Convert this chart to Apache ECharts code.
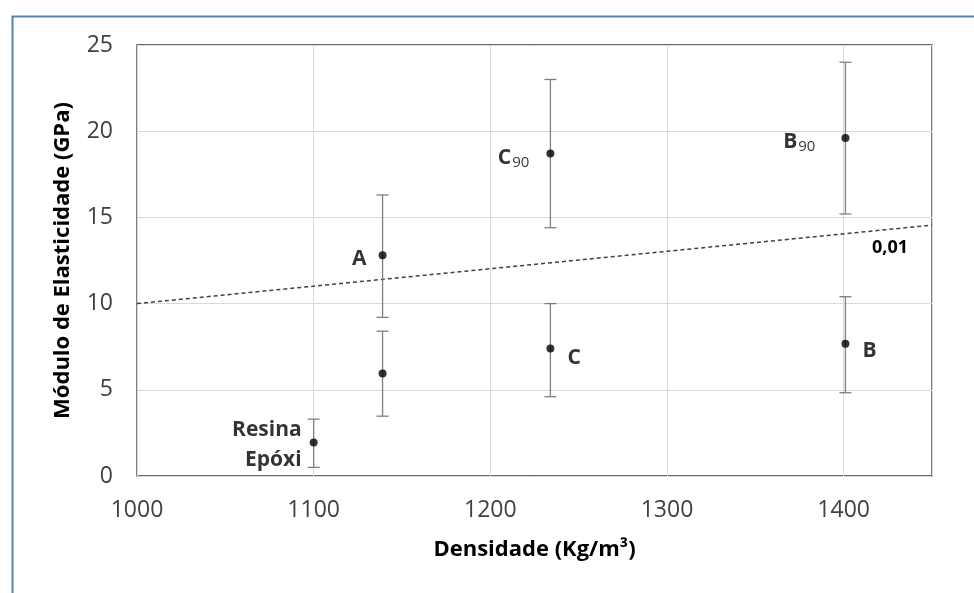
<!DOCTYPE html>
<html>
<head>
<meta charset="utf-8">
<script src="https://cdn.jsdelivr.net/npm/echarts@6/dist/echarts.min.js"></script>
<style>
  html, body { margin: 0; padding: 0; background: #fff; }
  #chart { width: 974px; height: 593px; }
</style>
</head>
<body>
<div id="chart"></div>
<script>
// Density (kg/m³) and elastic modulus (GPa) for each sample
const density = [1100, 1139, 1139, 1234, 1234, 1401, 1401];
const modulus = [1.95, 5.95, 12.8, 18.7, 7.4, 19.6, 7.67];
const errLow  = [0.5, 3.47, 9.2, 14.4, 4.6, 15.2, 4.83];
const errHigh = [3.3, 8.4, 16.3, 23.0, 10.0, 24.0, 10.4];
const sampleNames = ['Resina\nEpóxi', '', 'A', 'C90', 'C', 'B90', 'B'];

// Linear trend line end points and its slope label
const trendX = [1000, 1450];
const trendY = [10, 14.55];
const trendLabel = '0,01';

// Axis ticks
const xTicks = [1000, 1100, 1200, 1300, 1400];
const yTicks = [0, 5, 10, 15, 20, 25];

const FONT = '"Open Sans", "Liberation Sans", sans-serif';

// label placement for each sample name
const labelStyle = {
  'Resina\nEpóxi': { position: 'left', distance: 8, offset: [0, 3] },
  'A':   { position: 'left', distance: 12, offset: [0, 4] },
  'C90': { position: 'left', distance: 17, offset: [0, 4] },
  'C':   { position: 'right', distance: 13, offset: [0, 10] },
  'B90': { position: 'left', distance: 26, offset: [0, 4] },
  'B':   { position: 'right', distance: 13, offset: [0, 7] }
};

function richName(name) {
  if (name.endsWith('90')) return '{b|' + name.slice(0, -2) + '}{s|90}';
  if (name.includes('\n')) return name.split('\n').map(t => '{r|' + t + '}').join('\n');
  return '{b|' + name + '}';
}

const pointData = density.map((d, i) => {
  const name = sampleNames[i];
  const item = { value: [d, modulus[i]] };
  if (name) {
    const st = labelStyle[name];
    item.label = {
      show: true,
      position: st.position,
      distance: st.distance,
      offset: st.offset,
      align: st.position === 'left' ? 'right' : 'left',
      formatter: richName(name),
      rich: {
        b: { fontFamily: FONT, fontSize: 21, fontWeight: 'bold', color: '#000', lineHeight: 24 },
        s: { fontFamily: FONT, fontSize: 15, color: '#000', lineHeight: 24, padding: [10, 0, 0, 1] },
        r: { fontFamily: FONT, fontSize: 21, fontWeight: 'bold', color: '#000', lineHeight: 30, align: 'right' }
      }
    };
  }
  return item;
});

const errData = density.map((d, i) => [d, errLow[i], errHigh[i]]);

const chart = echarts.init(document.getElementById('chart'), null, { renderer: 'canvas' });

chart.setOption({
  backgroundColor: '#ffffff',
  animation: false,
  graphic: [{
    type: 'rect',
    left: 10, top: 14,
    shape: { width: 1000, height: 620 },
    style: { fill: 'none', stroke: '#4f81bd', lineWidth: 2 },
    silent: true
  }],
  grid: {
    left: 137, top: 45, right: 42, bottom: 117,
    show: true, borderColor: '#3a3a3a', borderWidth: 1.3,
    containLabel: false
  },
  xAxis: {
    type: 'value',
    min: xTicks[0], max: 1450, interval: 100,
    name: 'Densidade (Kg/m³)',
    nameLocation: 'middle', nameGap: 63,
    nameTextStyle: { fontFamily: FONT, fontSize: 22, fontWeight: 'bold', color: '#000' },
    axisLine: { show: false },
    axisTick: { show: false },
    axisLabel: {
      margin: 23, fontFamily: FONT, fontSize: 23, color: '#404040',
      formatter: v => xTicks.includes(v) ? String(v) : ''
    },
    splitLine: { show: true, lineStyle: { color: '#d9d9d9', width: 1 } }
  },
  yAxis: {
    type: 'value',
    min: yTicks[0], max: yTicks[yTicks.length - 1], interval: 5,
    name: 'Módulo de Elasticidade (GPa)',
    nameLocation: 'middle', nameGap: 63,
    nameTextStyle: { fontFamily: FONT, fontSize: 22, fontWeight: 'bold', color: '#000' },
    axisLine: { show: false },
    axisTick: { show: false },
    axisLabel: { margin: 24, fontFamily: FONT, fontSize: 23, color: '#404040' },
    splitLine: { show: true, lineStyle: { color: '#d9d9d9', width: 1 } }
  },
  series: [
    {
      name: 'trend',
      type: 'line',
      data: trendX.map((x, i) => [x, trendY[i]]),
      symbol: 'none',
      lineStyle: { color: '#404040', width: 1.5, type: [4, 3] },
      z: 2,
      endLabel: {
        show: true,
        formatter: trendLabel,
        offset: [-68, 23],
        fontFamily: FONT, fontSize: 18, fontWeight: 'bold', color: '#000'
      }
    },
    {
      name: 'error',
      type: 'custom',
      data: errData,
      z: 3,
      renderItem: function (params, api) {
        const x = api.value(0);
        const lo = api.coord([x, api.value(1)]);
        const hi = api.coord([x, api.value(2)]);
        const w = 6;
        const style = { stroke: '#7f7f7f', lineWidth: 1.3 };
        return {
          type: 'group',
          children: [
            { type: 'line', shape: { x1: lo[0], y1: lo[1], x2: hi[0], y2: hi[1] }, style },
            { type: 'line', shape: { x1: hi[0] - w, y1: hi[1], x2: hi[0] + w, y2: hi[1] }, style },
            { type: 'line', shape: { x1: lo[0] - w, y1: lo[1], x2: lo[0] + w, y2: lo[1] }, style }
          ]
        };
      }
    },
    {
      name: 'samples',
      type: 'scatter',
      data: pointData,
      symbol: 'circle',
      symbolSize: 8,
      itemStyle: { color: '#000' },
      z: 4
    }
  ]
});
</script>
</body>
</html>
